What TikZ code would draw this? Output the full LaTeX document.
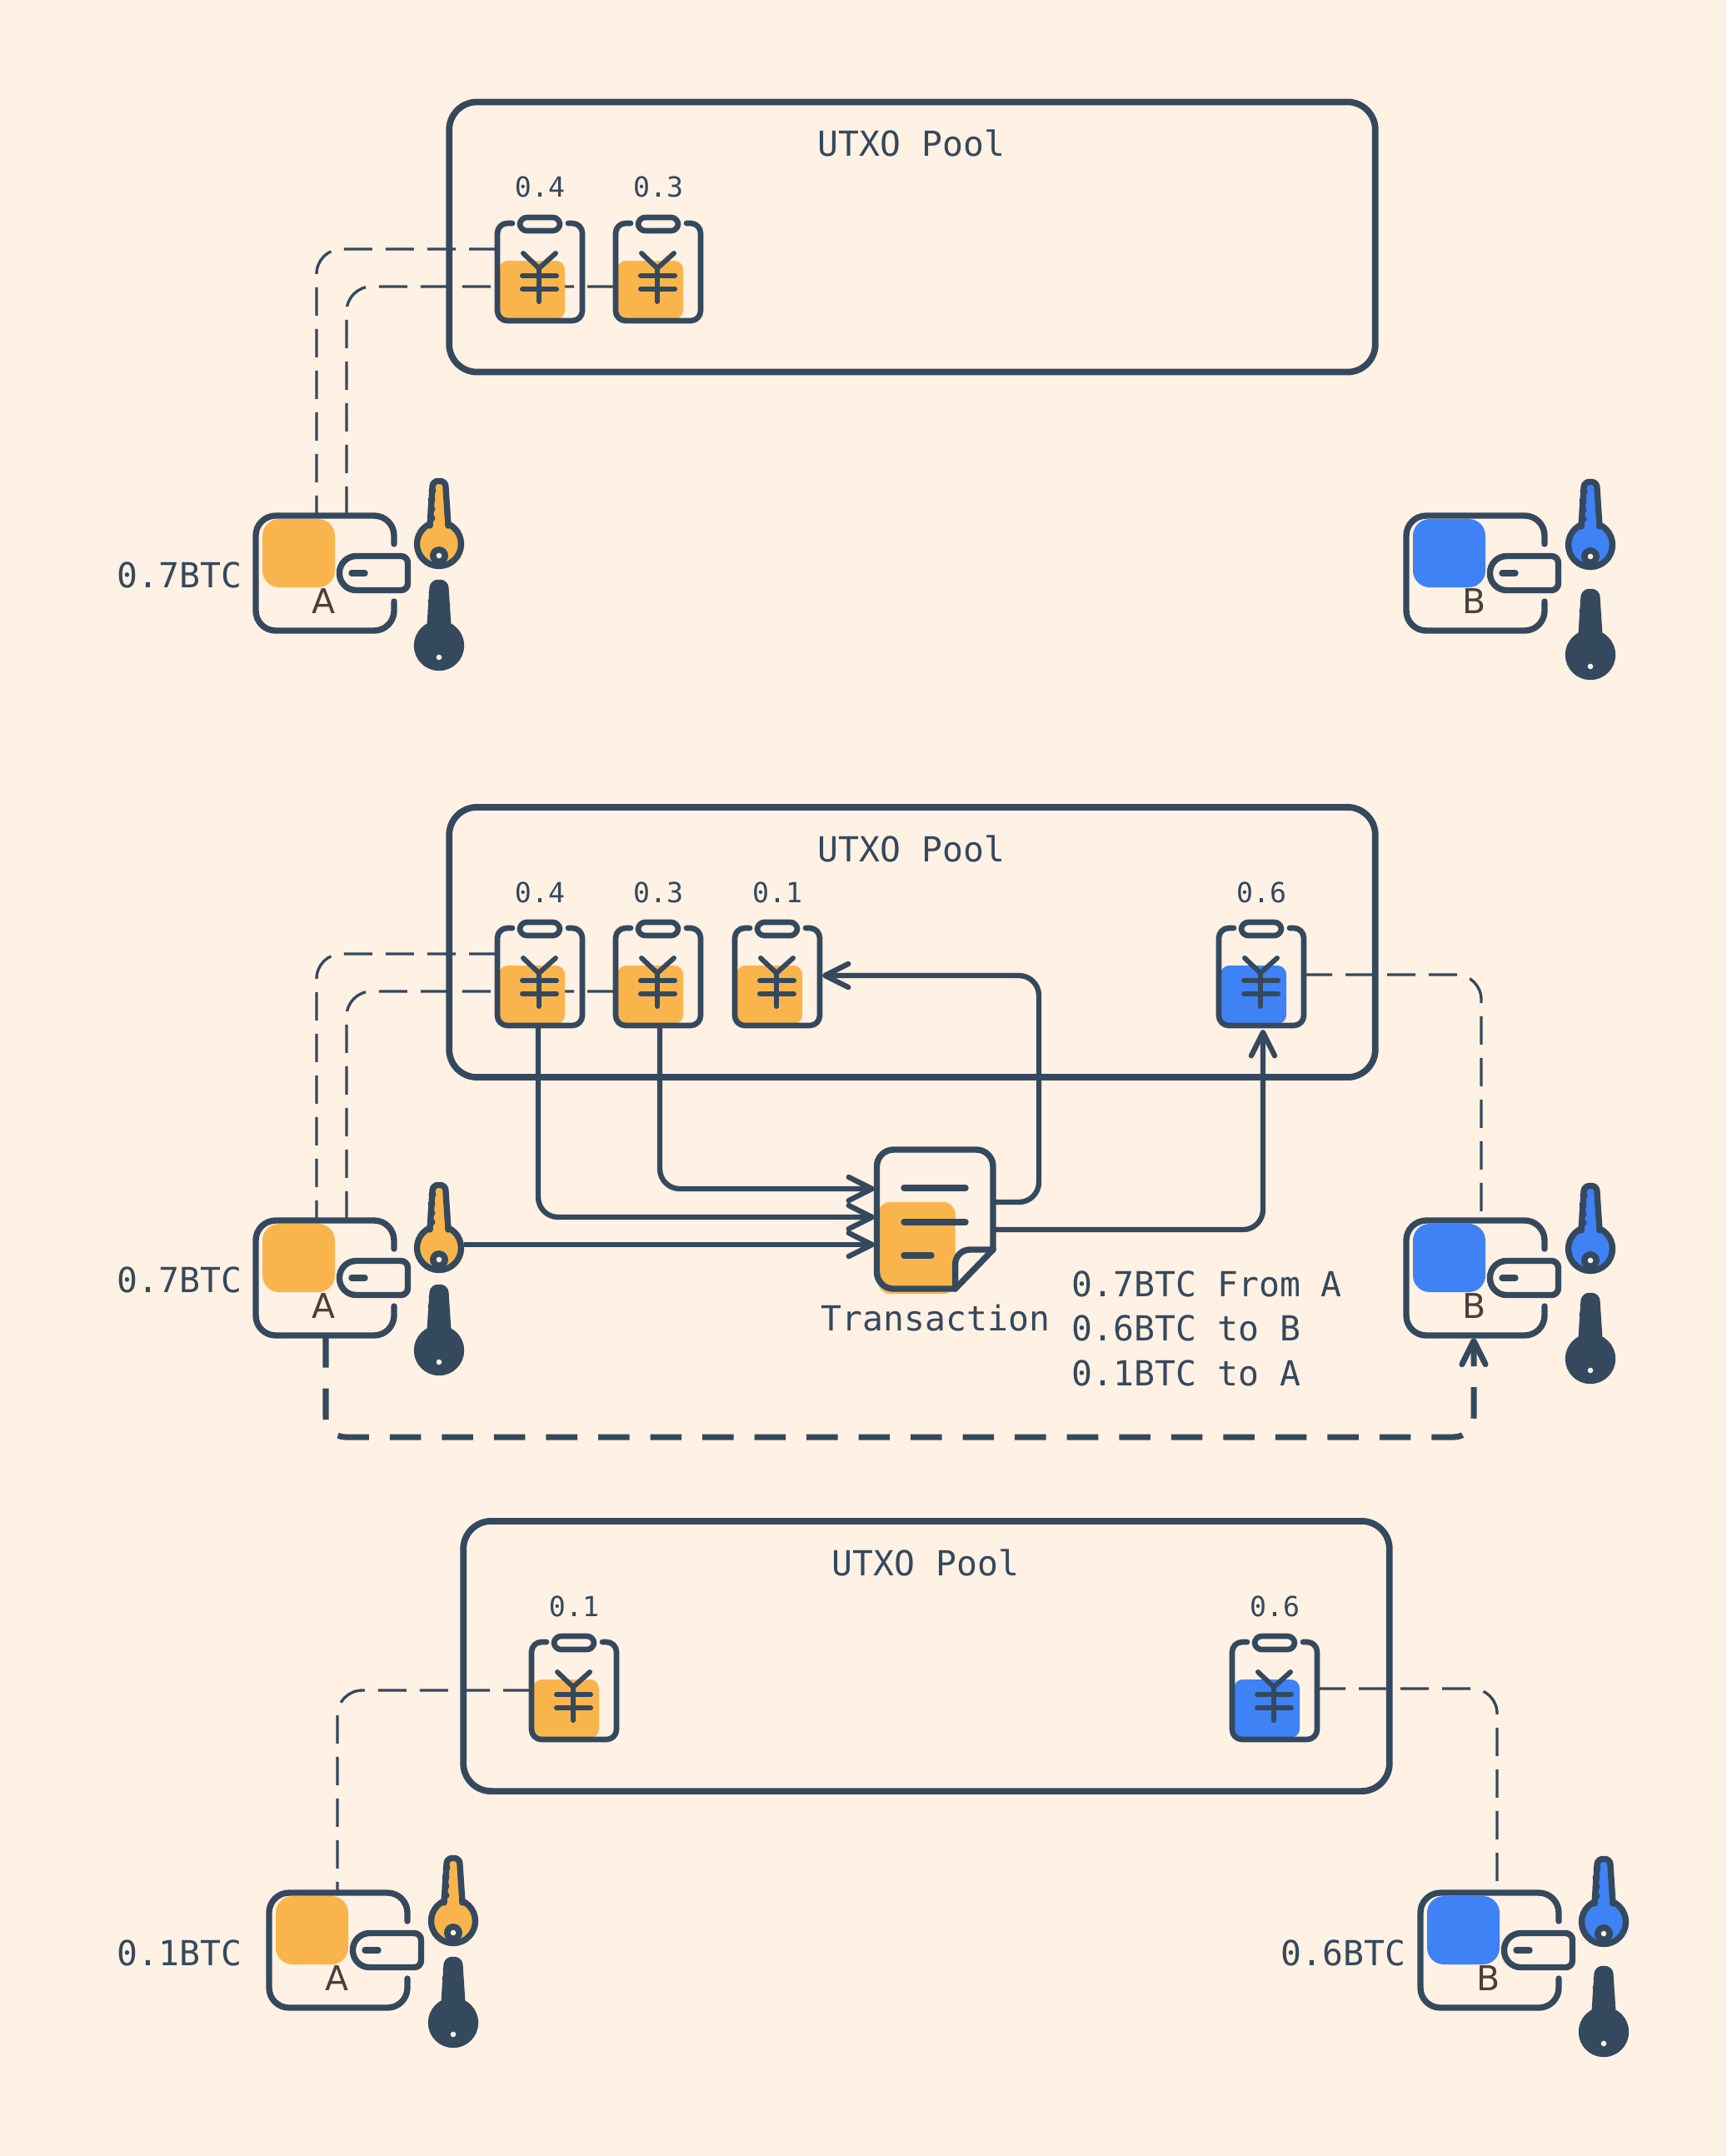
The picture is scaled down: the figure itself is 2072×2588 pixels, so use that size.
\documentclass[tikz,border=0pt]{standalone}
\usepackage{fontspec}
\usepackage{tikz}
\usetikzlibrary{arrows.meta,backgrounds}
\setmainfont{DejaVu Sans}
\setmonofont{DejaVu Sans Mono}

\definecolor{canvas}{HTML}{FFF1E3}
\definecolor{ink}{HTML}{34495E}
\definecolor{coinA}{HTML}{F9B54C}
\definecolor{coinB}{HTML}{3F82F5}
\definecolor{nameA}{HTML}{4A3F3C}

\tikzset{
	iconline/.style={draw=ink, line width=2.1pt, line cap=round, line join=round},
	thinicon/.style={draw=ink, line width=1.9pt, line cap=round, line join=round},
	poolbox/.style={shape=rectangle, draw=ink, line width=2.2pt, rounded corners=9.5pt, minimum width=11.11cm, minimum height=3.24cm, inner sep=0pt, outer sep=0pt},
	billbox/.style={shape=rectangle, minimum width=1.02cm, minimum height=1.17cm, inner sep=0pt, outer sep=0pt},
	walletbox/.style={shape=rectangle, minimum width=1.66cm, minimum height=1.38cm, inner sep=0pt, outer sep=0pt},
	keybox/.style={shape=circle, minimum size=0.6cm, inner sep=0pt, outer sep=0pt},
	bigtext/.style={text=ink, font=\ttfamily\fontsize{11.78}{14}\selectfont, inner sep=0pt},
	smalltext/.style={text=ink, font=\ttfamily\fontsize{9.45}{11}\selectfont, inner sep=0pt, anchor=base},
	ownerdash/.style={draw=ink, line width=0.95pt, dash pattern=on 9.67pt off 4.55pt, rounded corners=8.5pt},
	flowline/.style={draw=ink, line width=1.8pt, rounded corners=6.8pt, -{Straight Barb[length=8pt,width=8pt,round]}},
	paydash/.style={draw=ink, line width=2pt, dash pattern=on 10.67pt off 7.11pt, rounded corners=6.8pt, -{Straight Barb[length=8pt,width=8pt,round,sep=0pt]}}
}

% name, x, y, colour, amount
\newcommand{\billicon}[5]{
	\node[billbox] (#1) at (#2,#3) {};
	\begin{scope}[shift={(#2,#3)}]
		\coordinate (#1hi) at (-51,-27);
		\coordinate (#1lo) at (-51,18);
		\coordinate (#1mid) at (-51,0);
		\coordinate (#1out) at (51,-2);
		\fill[#4, rounded corners=3pt] (-49,-13) rectangle (30,57);
		\draw[thinicon, rounded corners=3.4pt] (-33,-58) -- (-51,-58) -- (-51,59) -- (51,59) -- (51,-58) -- (34,-58);
		\draw[thinicon, rounded corners=2.4pt] (-24,-65) rectangle (24,-49);
		\draw[thinicon, line width=1.7pt] (-20,-22) -- (-1,-4) -- (19,-22);
		\draw[thinicon, line width=1.7pt] (-1,-4) -- (-1,36);
		\draw[thinicon, line width=1.7pt] (-21,5) -- (20,5);
		\draw[thinicon, line width=1.7pt] (-21,21) -- (20,21);
		\node[smalltext] (#1amount) at (0,-89) {#5};
	\end{scope}
}

% name, x, y, colour, label
\newcommand{\walleticon}[5]{
	\node[walletbox] (#1) at (#2,#3) {};
	\begin{scope}[shift={(#2,#3)}]
		\fill[#4, rounded corners=5.7pt] (-75,-65) rectangle (12,17);
		\draw[iconline, rounded corners=6.8pt] (83,-35) -- (83,-69) -- (-83,-69) -- (-83,69) -- (83,69) -- (83,34);
		\draw[iconline, rounded corners=5.7pt] (60,-20.5) -- (17.5,-20.5) -- (17.5,20.5) -- (60,20.5) [rounded corners=2.3pt] -- (99.5,20.5) -- (99.5,-20.5) -- cycle;
		\draw[iconline] (32,0) -- (48,0);
		\node[text=#4!0!nameA, font=\fontsize{11.67}{14}\selectfont, inner sep=0pt, anchor=base] (#1name) at (-1,48) {#5};
	\end{scope}
}

% name, x, y, colour
\newcommand{\keyicon}[4]{
	\node[keybox] (#1) at (#2,#3) {};
	\begin{scope}[shift={(#2,#3)}]
		\draw[iconline, fill=#4] (0,0) circle[radius=26.5];
		\draw[iconline, fill=#4, rounded corners=1.7pt] (11,-22) -- (7.5,-75.5) -- (-7.5,-75.5) -- (-11,-22);
		\fill[#4] (-7,-30) rectangle (7,-16);
		\fill[ink] (-8,-64) circle[radius=4.5];
		\fill[ink] (-9,-53) circle[radius=4.5];
		\fill[ink] (-9,-42) circle[radius=4.5];
		\fill[ink] (-9,-31) circle[radius=4.5];
		\fill[ink] (0,14) circle[radius=11];
		\fill[canvas] (0,14) circle[radius=3.3];
	\end{scope}
}

\begin{document}
\begin{tikzpicture}[x=0.01cm, y=-0.01cm]
	
	\useasboundingbox (0,0) rectangle (2072,2588);
	\begin{scope}[on background layer]
		\fill[canvas] (0,0) rectangle (2072,2588);
	\end{scope}
	
	% first state
	\node[poolbox] (poolone) at (1095,284.5) {};
	\node[bigtext, anchor=base] (titleone) at (1094,187.5) {UTXO Pool};
	\billicon{oneA}{648}{326}{coinA}{0.4}
	\billicon{oneB}{790}{326}{coinA}{0.3}
	\walleticon{walletoneA}{390}{688}{coinA}{A}
	\walleticon{walletoneB}{1771}{688}{coinB}{B}
	\keyicon{keyoneA}{527}{653}{coinA}
	\keyicon{lockoneA}{527}{775}{ink}
	\keyicon{keyoneB}{1909}{654}{coinB}
	\keyicon{lockoneB}{1909}{786}{ink}
	\node[bigtext, anchor=base east] (moneyoneA) at (291,705.5) {0.7BTC};
	\coordinate (stemoneA) at (380,619);
	\coordinate (stemoneB) at (416,619);
	
	\begin{scope}[on background layer]
		\draw[ownerdash] (oneAhi) -| (stemoneA);
		\draw[ownerdash] (oneBmid |- oneAlo) -| (stemoneB);
	\end{scope}
	
	% second state
	\node[poolbox] (pooltwo) at (1095,1131) {};
	\node[bigtext, anchor=base] (titletwo) at (1094,1034) {UTXO Pool};
	\billicon{twoA}{648}{1172}{coinA}{0.4}
	\billicon{twoB}{790}{1172}{coinA}{0.3}
	\billicon{twoC}{933}{1172}{coinA}{0.1}
	\billicon{twoD}{1514}{1172}{coinB}{0.6}
	\walleticon{wallettwoA}{390}{1534}{coinA}{A}
	\walleticon{wallettwoB}{1771}{1534}{coinB}{B}
	\keyicon{keytwoA}{527}{1498}{coinA}
	\keyicon{locktwoA}{527}{1621}{ink}
	\keyicon{keytwoB}{1909}{1499}{coinB}
	\keyicon{locktwoB}{1909}{1631}{ink}
	\node[bigtext, anchor=base east] (moneytwoA) at (291,1551.5) {0.7BTC};
	\coordinate (stemtwoA) at (380,1465);
	\coordinate (stemtwoB) at (416,1465);
	\coordinate (stemtwoC) at (1778,1465);
	
	\begin{scope}[on background layer]
		\draw[ownerdash] (twoAhi) -| (stemtwoA);
		\draw[ownerdash] (twoBmid |- twoAlo) -| (stemtwoB);
		\draw[ownerdash] (twoDout) -| (stemtwoC);
	\end{scope}
	
	% transaction
	\node[billbox, minimum width=1.4cm, minimum height=1.67cm] (txdoc) at (1122,1463.5) {};
	\fill[coinA, rounded corners=4pt] (1054,1443) rectangle (1146.6,1553);
	\draw[iconline, rounded corners=5.7pt] (1146.6,1547) -- (1052.5,1547) -- (1052.5,1380) -- (1192,1380) -- (1192,1500);
	\draw[iconline] (1192,1500) -- (1146.6,1547);
	\draw[iconline, rounded corners=5pt] (1146.6,1547) -- (1146.6,1500) -- (1192,1500);
	\draw[iconline] (1085,1426) -- (1159,1426);
	\draw[iconline] (1085,1467) -- (1159,1467);
	\draw[iconline] (1085,1507) -- (1118,1507);
	\node[bigtext, anchor=base west] (txname) at (985,1597.5) {Transaction};
	\node[bigtext, anchor=base west] (txlineone) at (1286,1556.5) {0.7BTC From A};
	\node[bigtext, anchor=base west] (txlinetwo) at (1286,1609.5) {0.6BTC to B};
	\node[bigtext, anchor=base west] (txlinethree) at (1286,1663.5) {0.1BTC to A};
	
	\coordinate (txinone) at (1050,1427);
	\coordinate (txintwo) at (1050,1461);
	\coordinate (txinthree) at (1050,1494);
	\coordinate (txoutone) at (1192,1443);
	\coordinate (txouttwo) at (1192,1476);
	\coordinate (twoBfoot) at (792,1231);
	\coordinate (twoAfoot) at (646,1231);
	\coordinate (twoCside) at (987,1171);
	\coordinate (twoDfoot) at (1516,1236);
	\coordinate (payfrom) at (391,1604);
	\coordinate (payto) at (1769,1606);
	
	\begin{scope}[on background layer]
		\draw[flowline] (twoBfoot) |- (txinone);
		\draw[flowline] (twoAfoot) |- (txintwo);
		\draw[flowline] (keytwoA.east |- txinthree) -- (txinthree);
		\draw[flowline] (txoutone) -| (1247,1300) |- (twoCside);
		\draw[flowline] (txouttwo) -| (twoDfoot);
		\draw[paydash] (payfrom) -- (391,1725) -- (1769,1725) -- (payto);
	\end{scope}
	
	% third state
	\node[poolbox] (poolthree) at (1112,1988) {};
	\node[bigtext, anchor=base] (titlethree) at (1111,1891) {UTXO Pool};
	\billicon{threeA}{689}{2029}{coinA}{0.1}
	\billicon{threeB}{1530}{2029}{coinB}{0.6}
	\walleticon{walletthreeA}{406}{2341}{coinA}{A}
	\walleticon{walletthreeB}{1788}{2341}{coinB}{B}
	\keyicon{keythreeA}{544}{2306}{coinA}
	\keyicon{lockthreeA}{544}{2428}{ink}
	\keyicon{keythreeB}{1925}{2307}{coinB}
	\keyicon{lockthreeB}{1925}{2439}{ink}
	\node[bigtext, anchor=base east] (moneythreeA) at (291,2359.5) {0.1BTC};
	\node[bigtext, anchor=base east] (moneythreeB) at (1688,2359.5) {0.6BTC};
	\coordinate (stemthreeA) at (405,2272);
	\coordinate (stemthreeB) at (1797,2272);
	
	\begin{scope}[on background layer]
		\draw[ownerdash] (threeAmid) -| (stemthreeA);
		\draw[ownerdash] (threeBout) -| (stemthreeB);
	\end{scope}
	
\end{tikzpicture}
\end{document}
